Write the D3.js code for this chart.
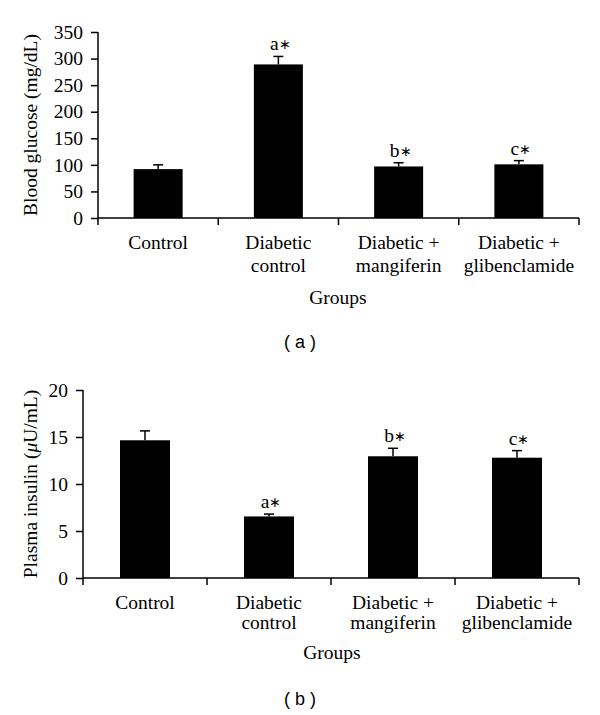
<!DOCTYPE html>
<html><head><meta charset="utf-8">
<script src="https://cdn.jsdelivr.net/npm/d3@7"></script>
<style>body{margin:0;background:#fff}svg{display:block}</style>
</head><body>
<svg id="c" width="600" height="715"></svg>
<script>
const categories = [["Control"], ["Diabetic", "control"], ["Diabetic +", "mangiferin"], ["Diabetic +", "glibenclamide"]];
const glucoseValues = [92, 289, 97, 101];
const glucoseErrors = [8, 15, 7, 7];
const glucoseTicks = [0, 50, 100, 150, 200, 250, 300, 350];
const insulinValues = [14.65, 6.55, 12.95, 12.8];
const insulinErrors = [1.0, 0.25, 0.85, 0.75];
const insulinTicks = [0, 5, 10, 15, 20];
const sigLetters = ["", "a", "b", "c"];

const svg = d3.select("#c");
const serif = "'Liberation Serif', 'Times New Roman', serif";
const FS = 19.5;

function panel(opts) {
  const g = svg.append("g");
  const x = d3.scaleBand().domain(d3.range(categories.length)).range([opts.x0, opts.x1]).paddingInner(0).paddingOuter(0);
  const y = d3.scaleLinear().domain([0, opts.max]).range([opts.y0, opts.y1]);
  const bw = opts.barW;
  g.selectAll("rect.bar").data(opts.values).enter().append("rect")
    .attr("x", (d, i) => x(i) + x.bandwidth() / 2 - bw / 2)
    .attr("y", d => y(d)).attr("width", bw).attr("height", d => y(0) - y(d))
    .attr("fill", "#000");
  const eb = g.selectAll("g.err").data(opts.values).enter().append("g");
  eb.append("line")
    .attr("x1", (d, i) => x(i) + x.bandwidth() / 2).attr("x2", (d, i) => x(i) + x.bandwidth() / 2)
    .attr("y1", d => y(d)).attr("y2", (d, i) => y(d + opts.errors[i]))
    .attr("stroke", "#000").attr("stroke-width", 1.5);
  eb.append("line")
    .attr("x1", (d, i) => x(i) + x.bandwidth() / 2 - 5).attr("x2", (d, i) => x(i) + x.bandwidth() / 2 + 5)
    .attr("y1", (d, i) => y(d + opts.errors[i])).attr("y2", (d, i) => y(d + opts.errors[i]))
    .attr("stroke", "#000").attr("stroke-width", 1.5);
  const sig = g.selectAll("text.sig").data(opts.values).enter().append("text")
    .attr("x", (d, i) => x(i) + x.bandwidth() / 2 + 2)
    .attr("y", (d, i) => y(d + opts.errors[i]) - 6)
    .attr("text-anchor", "middle").attr("font-family", serif).attr("font-size", FS);
  sig.append("tspan").text((d, i) => sigLetters[i]);
  sig.append("tspan").attr("font-size", 14).attr("dy", -1).text((d, i) => sigLetters[i] ? "∗" : "");
  const ya = g.append("g").attr("transform", `translate(${opts.x0},0)`)
    .call(d3.axisLeft(y).tickValues(opts.ticks).tickSize(7).tickPadding(8));
  ya.select(".domain").attr("d", `M0,${opts.y0}V${opts.y1}`).attr("stroke-width", 1.5);
  ya.selectAll(".tick line").attr("stroke-width", 1.5);
  ya.selectAll("text").attr("font-family", serif).attr("font-size", FS).attr("fill", "#000");
  const xa = g.append("g").attr("transform", `translate(0,${opts.y0})`);
  xa.append("line").attr("x1", opts.x0).attr("x2", opts.x1).attr("stroke", "#000").attr("stroke-width", 1.5);
  const edges = d3.range(categories.length + 1).map(i => i < categories.length ? x(i) : opts.x1);
  xa.selectAll("line.t").data(edges).enter().append("line")
    .attr("x1", d => d).attr("x2", d => d).attr("y1", 0).attr("y2", 7)
    .attr("stroke", "#000").attr("stroke-width", 1.5);
  const lab = xa.selectAll("text.cat").data(categories).enter().append("text")
    .attr("text-anchor", "middle").attr("font-family", serif).attr("font-size", FS)
    .attr("x", (d, i) => x(i) + x.bandwidth() / 2).attr("y", opts.catDy);
  lab.selectAll("tspan").data(d => d).enter().append("tspan")
    .attr("x", function () { return d3.select(this.parentNode).attr("x"); })
    .attr("dy", (d, i) => i === 0 ? 0 : opts.lineH).text(d => d);
  xa.append("text").attr("x", opts.groupsX).attr("y", opts.groupsDy)
    .attr("text-anchor", "middle").attr("font-family", serif).attr("font-size", FS).text("Groups");
  const yl = g.append("text").attr("transform", `translate(${opts.ylx},${(opts.y0 + opts.y1) / 2}) rotate(-90)`)
    .attr("text-anchor", "middle").attr("font-family", serif).attr("font-size", FS);
  opts.ylabel(yl);
  g.append("text").attr("x", 300).attr("y", opts.panelY).attr("text-anchor", "middle")
    .attr("font-family", "'Liberation Sans', Arial, sans-serif").attr("font-size", 18).text(opts.panel);
}

panel({
  x0: 98, x1: 579, y0: 218, y1: 32, max: 350, values: glucoseValues, errors: glucoseErrors,
  ticks: glucoseTicks, barW: 49, catDy: 31, lineH: 23, groupsX: 338, groupsDy: 86, ylx: 37, panelY: 348, panel: "( a )",
  ylabel: t => t.text("Blood glucose (mg/dL)")
});
panel({
  x0: 83, x1: 579, y0: 578, y1: 390, max: 20, values: insulinValues, errors: insulinErrors,
  ticks: insulinTicks, barW: 50, catDy: 31, lineH: 20, groupsX: 332, groupsDy: 81, ylx: 37, panelY: 705, panel: "( b )",
  ylabel: t => { t.append("tspan").text("Plasma insulin ("); t.append("tspan").attr("font-style", "italic").text("μ"); t.append("tspan").text("U/mL)"); }
});
</script>
</body></html>
